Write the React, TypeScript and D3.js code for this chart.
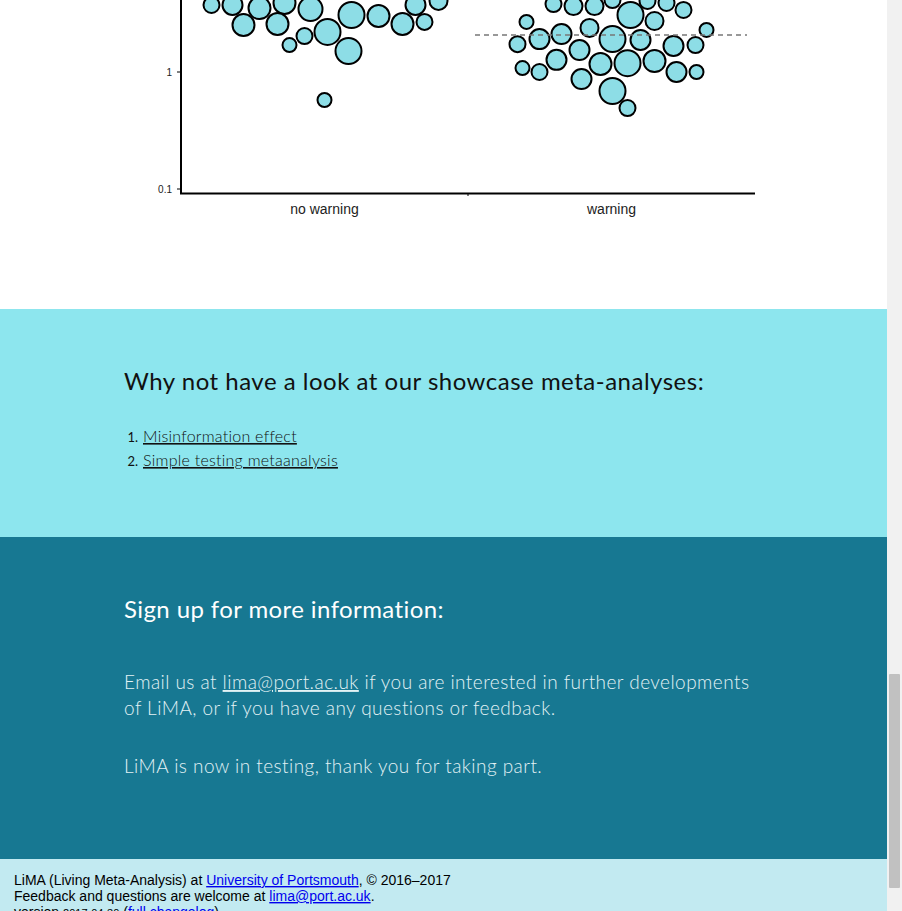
import React, { useEffect } from 'react';
import * as d3 from 'd3';

// effect sizes (log scale), beeswarm offsets from group centre (px units), weights (sample sizes)
const categories = ['no warning', 'warning'];
const noWarnValues = [3.74, 3.74, 3.52, 3.89, 3.45, 2.52, 2.57, 3.07, 3.01, 3.74, 4.05, 2.57, 2.68, 2.2, 2.03, 1.7, 1.51, 0.576];
const noWarnOffsets = [-113, -92, -65, -40, -14, -81, -47, 27, 54, 91, 114, 78, 100, 3, -20, -35, 24, 0];
const noWarnWeights = [64, 100, 121, 121, 144, 121, 121, 169, 121, 100, 81, 121, 64, 169, 64, 49, 169, 49];
const warnValues = [3.81, 3.66, 3.66, 4.12, 4.05, 3.89, 3.39, 2.68, 2.38, 3.07, 2.73, 2.29, 1.73, 1.91, 2.11, 1.54, 1.91, 1.88, 1.67, 1.7, 1.27, 1.17, 1.19, 1.24, 1.0, 1.0, 1.08, 1.0, 0.871, 0.688, 0.492];
const warnOffsets = [-58, -38, -17, 1, 36, 55, 72, -85, -22, 19, 43, 95, -94, -72, -50, -32, 1, 29, 62, 84, -55, -11, 16, 43, 65, 85, -89, -72, -30, 1, 16];
const warnWeights = [64, 81, 81, 64, 64, 64, 64, 49, 81, 169, 81, 49, 64, 100, 100, 100, 169, 100, 100, 64, 100, 121, 169, 121, 100, 49, 49, 64, 100, 169, 64];
const meanWarning = 2.07;
const yTicks = [0.1, 1];
const showcase = ['Misinformation effect', 'Simple testing metaanalysis'];

const W = 902;
const H = 911;
const heading = 'Lato, "Open Sans", sans-serif';

export default function App() {
  useEffect(() => {
    document.body.style.margin = '0';
    document.body.style.overflow = 'hidden';
  }, []);

  const x = d3.scaleBand().domain(categories).range([181, 755]);
  const y = d3.scaleLog().domain([0.1, 1]).range([189, 72]);
  const r = d3.scaleSqrt().domain([0, 169]).range([0, 13]);

  const groups = [
    { cat: categories[0], values: noWarnValues, offsets: noWarnOffsets, weights: noWarnWeights },
    { cat: categories[1], values: warnValues, offsets: warnOffsets, weights: warnWeights },
  ];
  const cx = (c: string) => (x(c) || 0) + x.bandwidth() / 2;

  return (
    <svg width={W} height={H} style={{ display: 'block' }} fontFamily="Arial, 'Liberation Sans', sans-serif">
      <rect width={887} height={309} fill="#fff" />
      {/* chart */}
      <g>
        {groups.map((g) =>
          g.values.map((v, i) => (
            <circle key={g.cat + i} cx={cx(g.cat) + g.offsets[i]} cy={y(v)} r={r(g.weights[i])}
              fill="#8ddde6" stroke="#000" strokeWidth={2} />
          ))
        )}
        <line x1={(x(categories[1]) || 0) + 7} x2={754 - 7} y1={y(meanWarning)} y2={y(meanWarning)}
          stroke="#777" strokeWidth={1.5} strokeDasharray="5,4" />
        <line x1={181} x2={181} y1={0} y2={194} stroke="#000" strokeWidth={2} />
        <line x1={180} x2={755} y1={193.5} y2={193.5} stroke="#000" strokeWidth={2} />
        <line x1={x(categories[1])} x2={x(categories[1])} y1={193} y2={196} stroke="#000" strokeWidth={1} />
        {yTicks.map((t) => (
          <g key={t}>
            <line x1={177} x2={181} y1={y(t)} y2={y(t)} stroke="#000" />
            <text x={172} y={y(t) + 4} fontSize={10} textAnchor="end" fill="#222">{t}</text>
          </g>
        ))}
        {categories.map((c) => (
          <text key={c} x={cx(c)} y={214} fontSize={14} textAnchor="middle" fill="#222">{c}</text>
        ))}
      </g>
      {/* showcase */}
      <rect y={309} width={887} height={228} fill="#8de6ee" />
      <text x={124} y={390} fontSize={24} fontFamily={heading} fill="#111" letterSpacing={0.5}>Why not have a look at our showcase meta-analyses:</text>
      {showcase.map((s, i) => (
        <g key={s} fontFamily={heading} fill="#111">
          <text x={138} y={442 + i * 24} fontSize={13} textAnchor="end">{i + 1}.</text>
          <text x={143} y={442 + i * 24} fontSize={16} textDecoration="underline" fontWeight={300} letterSpacing={0.25}>{s}</text>
        </g>
      ))}
      {/* sign up */}
      <rect y={537} width={887} height={322} fill="#177892" />
      <text x={124} y={618} fontSize={24} fontFamily={heading} fill="#fff" letterSpacing={0.4}>Sign up for more information:</text>
      <g fontFamily={heading} fontSize={19} fill="#e3f2f5" fontWeight={300} letterSpacing={0.45}>
        <text x={124} y={689}>Email us at <tspan textDecoration="underline">lima@port.ac.uk</tspan> if you are interested in further developments</text>
        <text x={124} y={715}>of LiMA, or if you have any questions or feedback.</text>
        <text x={124} y={773}>LiMA is now in testing, thank you for taking part.</text>
      </g>
      {/* footer */}
      <rect y={859} width={887} height={52} fill="#c2eaf1" />
      <g fontSize={14} fill="#000">
        <text x={14} y={885}>LiMA (Living Meta-Analysis) at <tspan fill="#00e" textDecoration="underline">University of Portsmouth</tspan>, © 2016–2017</text>
        <text x={14} y={901}>Feedback and questions are welcome at <tspan fill="#00e" textDecoration="underline">lima@port.ac.uk</tspan>.</text>
        <text x={14} y={917}>version <tspan fontSize={11}>2017-04-30</tspan> (<tspan fill="#00e" textDecoration="underline">full changelog</tspan>)</text>
      </g>
      {/* scrollbar */}
      <rect x={887} width={15} height={H} fill="#f1f1f1" />
      <rect x={889} y={674} width={11} height={214} rx={1} fill="#c1c1c1" />
    </svg>
  );
}
